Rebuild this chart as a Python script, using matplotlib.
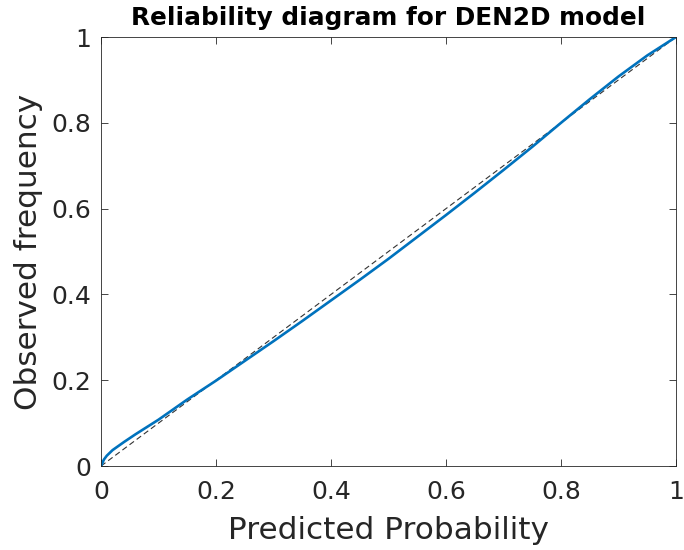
import numpy as np
import matplotlib.pyplot as plt

plt.rcParams['font.family'] = ['DejaVu Sans']

# 读取的曲线数据
pred_prob = [0.0, 0.005, 0.01, 0.02, 0.04, 0.06, 0.1, 0.15, 0.2, 0.25, 0.3, 0.35, 0.4,
             0.45, 0.5, 0.55, 0.6, 0.65, 0.7, 0.75, 0.8, 0.85, 0.9, 0.95, 1.0]
obs_freq = [0.0, 0.015, 0.024, 0.037, 0.056, 0.074, 0.108, 0.155, 0.199, 0.245, 0.291,
            0.338, 0.386, 0.434, 0.483, 0.534, 0.585, 0.637, 0.69, 0.744, 0.8, 0.855,
            0.908, 0.957, 1.0]
diag = [0, 1]

fig = plt.figure(figsize=(6.84, 5.5), dpi=100)
ax = fig.add_axes([0.1477, 0.1527, 0.8406, 0.78])

ax.plot(diag, diag, '--', color='#333333', linewidth=0.8, dashes=(5, 3))
ax.plot(pred_prob, obs_freq, color='#0072BD', linewidth=1.9)

ax.set_xlim(0, 1)
ax.set_ylim(0, 1)
ax.set_xticks([0, 0.2, 0.4, 0.6, 0.8, 1])
ax.set_xticklabels(['0', '0.2', '0.4', '0.6', '0.8', '1'])
ax.set_yticks([0, 0.2, 0.4, 0.6, 0.8, 1])
ax.set_yticklabels(['0', '0.2', '0.4', '0.6', '0.8', '1'])
ax.tick_params(direction='in', top=True, right=True, length=5, width=0.6,
               labelsize=18, colors='#262626', pad=7)
ax.tick_params(axis='x', pad=10)
for s in ax.spines.values():
    s.set_color('#262626')
    s.set_linewidth(0.6)

ax.set_xlabel('Predicted Probability', fontsize=22.4, color='#262626', labelpad=9)
ax.set_ylabel('Observed frequency', fontsize=22.4, color='#262626', labelpad=6)
ax.set_title('Reliability diagram for DEN2D model', fontsize=17.8, fontweight='bold', pad=9)

plt.savefig('out.png', dpi=100)
